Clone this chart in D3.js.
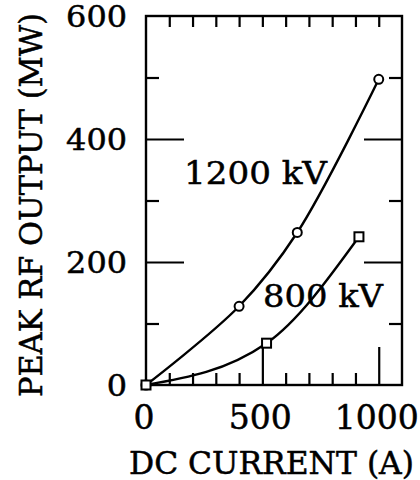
<!DOCTYPE html>
<html>
<head>
<meta charset="utf-8">
<script src="https://cdn.jsdelivr.net/npm/d3@7"></script>
<style>
    body { margin: 0; background: #fff; }
    text { font-family: "DejaVu Serif", "Liberation Serif", serif; fill: #000; stroke: #000; stroke-width: 0.5px; }
</style>
</head>
<body>
<script>
// data
const currents_1200 = [0, 400, 650, 1000];
const power_1200 = [0, 128, 248, 497];
const currents_800 = [0, 518, 915];
const power_800 = [0, 68, 241];

const x_minor_ticks = [100, 200, 300, 400, 600, 700, 800, 900];
const x_major_ticks = [500, 1000];
const x_tick_labels = [0, 500, 1000];
const y_minor_ticks = [100, 300, 500];
const y_major_ticks = [200, 400];
const y_tick_labels = [0, 200, 400, 600];

const width = 420, height = 480;

const x = d3.scaleLinear().domain([0, 1100]).range([146, 402]);
const y = d3.scaleLinear().domain([0, 600]).range([385, 16]);

const svg = d3.select("body").append("svg")
    .attr("width", width)
    .attr("height", height);

// inward ticks on all four sides
const add_axis = function (axis, transform) {
    const g = svg.append("g")
        .attr("transform", transform)
        .call(axis);
    g.select(".domain").remove();
    g.selectAll("line").attr("stroke", "#000").attr("stroke-width", 2.2);
    return g;
};

add_axis(d3.axisBottom(x).tickValues(x_minor_ticks).tickSize(-12).tickFormat(""), `translate(0,${y(0)})`);
add_axis(d3.axisBottom(x).tickValues(x_major_ticks).tickSize(-38).tickFormat(""), `translate(0,${y(0)})`);
add_axis(d3.axisTop(x).tickValues(x_minor_ticks).tickSize(-11).tickFormat(""), `translate(0,${y(600)})`);
add_axis(d3.axisTop(x).tickValues(x_major_ticks).tickSize(-11).tickFormat(""), `translate(0,${y(600)})`);
add_axis(d3.axisLeft(y).tickValues(y_minor_ticks).tickSize(-13).tickFormat(""), `translate(${x(0)},0)`);
add_axis(d3.axisLeft(y).tickValues(y_major_ticks).tickSize(-38).tickFormat(""), `translate(${x(0)},0)`);
add_axis(d3.axisRight(y).tickValues(y_minor_ticks).tickSize(-13).tickFormat(""), `translate(${x(1100)},0)`);
add_axis(d3.axisRight(y).tickValues(y_major_ticks).tickSize(-38).tickFormat(""), `translate(${x(1100)},0)`);

// frame
svg.append("rect")
    .attr("x", x(0))
    .attr("y", y(600))
    .attr("width", x(1100) - x(0))
    .attr("height", y(0) - y(600))
    .attr("fill", "none")
    .attr("stroke", "#000")
    .attr("stroke-width", 2.4);

// tick labels
svg.append("g").selectAll("text")
    .data(x_tick_labels)
    .join("text")
    .attr("x", d => x(d) - 2)
    .attr("y", 429)
    .attr("text-anchor", "middle")
    .style("font-size", "33px")
    .text(d => d);

svg.append("g").selectAll("text")
    .data(y_tick_labels)
    .join("text")
    .attr("x", 127)
    .attr("y", d => y(d) + 11)
    .attr("text-anchor", "end")
    .style("font-size", "29px")
    .attr("textLength", d => String(d).length * 20.3)
    .attr("lengthAdjust", "spacingAndGlyphs")
    .text(d => d);

// axis titles
svg.append("text")
    .attr("x", 129)
    .attr("y", 474)
    .attr("textLength", 285)
    .attr("lengthAdjust", "spacingAndGlyphs")
    .style("font-size", "31px")
    .text("DC CURRENT (A)");

svg.append("text")
    .attr("transform", "translate(42,397) rotate(-90)")
    .attr("textLength", 384)
    .attr("lengthAdjust", "spacingAndGlyphs")
    .style("font-size", "32px")
    .text("PEAK RF OUTPUT (MW)");

// curves
const line = d3.line()
    .x(d => x(d[0]))
    .y(d => y(d[1]))
    .curve(d3.curveCatmullRom);

const series_1200 = d3.zip(currents_1200, power_1200);
const series_800 = d3.zip(currents_800, power_800);

svg.append("path")
    .datum(series_1200)
    .attr("d", line)
    .attr("fill", "none")
    .attr("stroke", "#000")
    .attr("stroke-width", 2.4);

svg.append("path")
    .datum(series_800)
    .attr("d", line.curve(d3.curveMonotoneX))
    .attr("fill", "none")
    .attr("stroke", "#000")
    .attr("stroke-width", 2.4);

// markers
svg.append("g").selectAll("circle")
    .data(series_1200)
    .join("circle")
    .attr("cx", d => x(d[0]))
    .attr("cy", d => y(d[1]))
    .attr("r", 4.5)
    .attr("fill", "#fff")
    .attr("stroke", "#000")
    .attr("stroke-width", 2);

svg.append("g").selectAll("rect")
    .data(series_800)
    .join("rect")
    .attr("x", d => x(d[0]) - 4.5)
    .attr("y", d => y(d[1]) - 4.5)
    .attr("width", 9)
    .attr("height", 9)
    .attr("fill", "#fff")
    .attr("stroke", "#000")
    .attr("stroke-width", 2);

// series labels
svg.append("text")
    .attr("x", 184)
    .attr("y", 184)
    .attr("textLength", 143)
    .attr("lengthAdjust", "spacingAndGlyphs")
    .style("font-size", "32px")
    .text("1200 kV");

svg.append("text")
    .attr("x", 263)
    .attr("y", 307)
    .attr("textLength", 120)
    .attr("lengthAdjust", "spacingAndGlyphs")
    .style("font-size", "32px")
    .text("800 kV");
</script>
</body>
</html>
